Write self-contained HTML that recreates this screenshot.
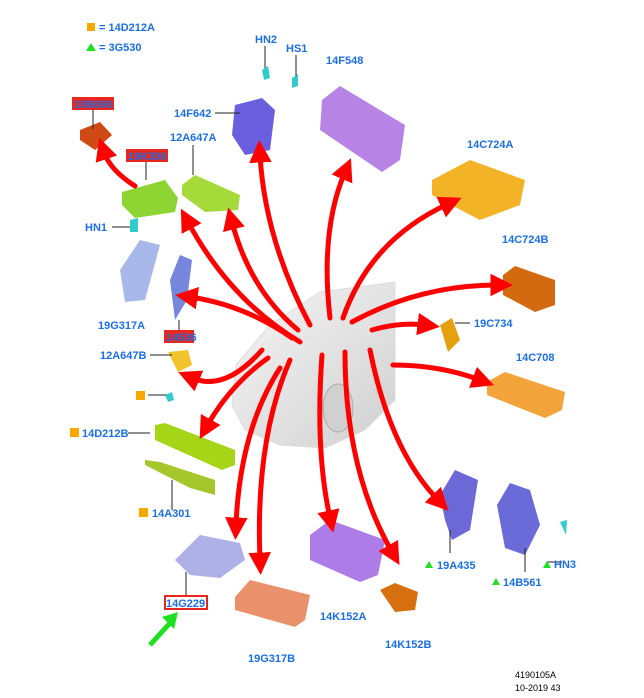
<!DOCTYPE html>
<html><head><style>
body{margin:0;background:#fff}
svg{display:block}
text{font-family:"Liberation Sans",sans-serif;font-weight:bold;font-size:11px;fill:#1a6fe6}
.ln{stroke:#222;stroke-width:1;fill:none}
.ar{stroke:#f00;stroke-width:5;fill:none;stroke-linecap:round}
</style></head><body>
<svg width="644" height="698" viewBox="0 0 644 698" xmlns="http://www.w3.org/2000/svg">
<defs>
<marker id="ah" markerWidth="4.5" markerHeight="4.5" refX="1.5" refY="2.25" orient="auto" markerUnits="strokeWidth">
<path d="M0,0 L4.5,2.25 L0,4.5 Z" fill="#f00"/></marker>
<linearGradient id="car" x1="0" y1="0" x2="1" y2="1"><stop offset="0" stop-color="#f6f6f6"/><stop offset="1" stop-color="#d0d0d0"/></linearGradient>
</defs>
<rect x="87" y="23" width="8" height="8" fill="#f9a800"/><text x="99" y="31">= 14D212A</text>
<polygon points="91,43 86,51 96,51" fill="#1ee01e"/><text x="99" y="51">= 3G530</text>
<!-- car -->
<path d="M232,405 L236,365 L270,325 L320,292 L395,282 L395,400 L365,430 L325,448 L280,445 L245,430 Z" fill="url(#car)" stroke="#ddd"/>
<path d="M260,345 Q300,330 360,345" stroke="#e2e2e2" fill="none"/>
<ellipse cx="338" cy="408" rx="15" ry="24" fill="#d0d0d0" stroke="#aaa"/>
<!-- components -->
<path d="M80,130 L100,122 L112,135 L95,150 L80,140Z" fill="#d04a16"/>
<path d="M122,192 L165,180 L178,198 L175,212 L135,218 L122,205Z" fill="#8ed432"/>
<path d="M182,185 L195,175 L240,195 L238,210 L205,212 L182,195Z" fill="#a6d93a"/>
<path d="M235,105 L262,98 L275,110 L270,150 L245,155 L232,135Z" fill="#6b5fe0"/>
<path d="M262,70 L268,66 L270,78 L264,80Z" fill="#3cc"/><path d="M292,78 L298,74 L298,86 L292,88Z" fill="#3cc"/>
<path d="M322,100 L340,86 L405,125 L400,160 L382,172 L320,130Z" fill="#b784e6"/>
<path d="M432,180 L470,160 L525,180 L520,205 L480,220 L432,195Z" fill="#f2b326"/>
<path d="M503,275 L515,266 L555,280 L555,305 L535,312 L503,295Z" fill="#d36a10"/>
<path d="M440,325 L452,318 L460,340 L448,352Z" fill="#e5a010"/>
<path d="M487,382 L505,372 L565,392 L562,410 L545,418 L487,395Z" fill="#f2a33a"/>
<path d="M120,270 L140,240 L160,245 L145,300 L125,302Z" fill="#a9b8ea"/>
<path d="M170,280 L180,255 L192,260 L187,300 L175,320Z" fill="#7586dc"/>
<path d="M168,352 L188,350 L192,365 L178,372Z" fill="#f2c22a"/>
<path d="M155,425 L165,423 L235,450 L235,465 L222,470 L155,440Z" fill="#a6d417"/>
<path d="M145,460 L160,462 L215,480 L215,495 L190,488 L145,465Z" fill="#a6c72c"/>
<path d="M175,560 L200,535 L240,543 L245,560 L220,578 L190,575Z" fill="#aeb1e6"/>
<path d="M235,597 L250,580 L310,595 L305,620 L295,627 L235,610Z" fill="#e9916a"/>
<path d="M310,535 L330,520 L385,540 L378,575 L360,582 L310,560Z" fill="#ae7ce6"/>
<path d="M380,590 L395,583 L418,592 L415,610 L395,612Z" fill="#d8700f"/>
<path d="M440,495 L455,470 L478,480 L470,530 L452,540 L445,520Z" fill="#6c68d8"/>
<path d="M497,505 L510,483 L530,490 L540,525 L525,555 L505,548Z" fill="#6a6ad8"/>
<path d="M130,220 L138,218 L138,232 L130,232Z" fill="#3cc"/><path d="M560,522 L567,520 L566,535Z" fill="#3cc"/>
<path d="M165,395 L172,392 L174,400 L168,402Z" fill="#3cc"/>
<!-- arrows -->
<g class="ar" marker-end="url(#ah)">
<path d="M135,186 Q110,170 104,152"/>
<path d="M300,342 Q230,300 188,222"/>
<path d="M298,330 Q250,290 232,222"/>
<path d="M310,325 Q265,240 260,155"/>
<path d="M330,318 Q320,230 345,172"/>
<path d="M343,318 Q370,240 448,204"/>
<path d="M352,322 Q420,285 498,285"/>
<path d="M372,330 Q400,322 425,325"/>
<path d="M393,365 Q440,365 480,380"/>
<path d="M370,350 Q390,450 438,500"/>
<path d="M345,352 Q345,470 392,552"/>
<path d="M322,355 Q315,450 330,518"/>
<path d="M290,360 Q255,440 260,560"/>
<path d="M280,368 Q240,430 236,525"/>
<path d="M268,358 Q230,385 207,426"/>
<path d="M262,350 Q225,392 192,378"/>
<path d="M292,338 Q245,305 190,297"/>
</g>
<g class="ln"><path d="M93,110 V129"/><path d="M146,162 V180"/><path d="M193,145 V175"/><path d="M215,113 H240"/><path d="M265,46 V68"/><path d="M296,55 V76"/><path d="M112,227 H130"/><path d="M179,331 V320"/><path d="M150,355 H172"/><path d="M148,395 H166"/><path d="M128,433 H150"/><path d="M172,510 V480"/><path d="M186,597 V572"/><path d="M450,553 V530"/><path d="M525,572 V548"/><path d="M547,562 H562"/><path d="M470,323 H455"/></g>
<rect x="72" y="97" width="42" height="13" fill="#e8261e"/><text x="74" y="108">10B690</text>
<rect x="126" y="149" width="42" height="13" fill="#e8261e"/><text x="128" y="160">19K350</text>
<text x="174" y="117">14F642</text><text x="170" y="141">12A647A</text>
<text x="255" y="43">HN2</text><text x="286" y="52">HS1</text>
<text x="326" y="64">14F548</text><text x="467" y="148">14C724A</text>
<text x="502" y="243">14C724B</text><text x="474" y="327">19C734</text>
<text x="516" y="361">14C708</text>
<text x="85" y="231">HN1</text><text x="98" y="329">19G317A</text>
<rect x="164" y="330" width="30" height="13" fill="#e8261e"/><text x="166" y="341">14536</text>
<text x="100" y="359">12A647B</text>
<rect x="136" y="391" width="9" height="9" fill="#f9a800"/>
<rect x="70" y="428" width="9" height="9" fill="#f9a800"/><text x="82" y="437">14D212B</text>
<rect x="139" y="508" width="9" height="9" fill="#f9a800"/><text x="152" y="517">14A301</text>
<rect x="165" y="596" width="42" height="13" fill="#fff" stroke="#e8261e" stroke-width="2"/><text x="166" y="607">14G229</text>
<path d="M150,645 L170,623" stroke="#1ee01e" stroke-width="5"/><polygon points="162,617 178,612 174,629" fill="#1ee01e"/>
<text x="248" y="662">19G317B</text><text x="320" y="620">14K152A</text><text x="385" y="648">14K152B</text>
<polygon points="429,561 425,568 433,568" fill="#1ee01e"/><text x="437" y="569">19A435</text>
<polygon points="496,578 492,585 500,585" fill="#1ee01e"/><text x="503" y="586">14B561</text>
<polygon points="547,561 543,568 551,568" fill="#1ee01e"/><text x="554" y="568">HN3</text>
<text x="515" y="678" style="fill:#000;font-weight:normal;font-size:9px">4190105A</text>
<text x="515" y="691" style="fill:#000;font-weight:normal;font-size:9px">10-2019 43</text>
</svg>
</body></html>
